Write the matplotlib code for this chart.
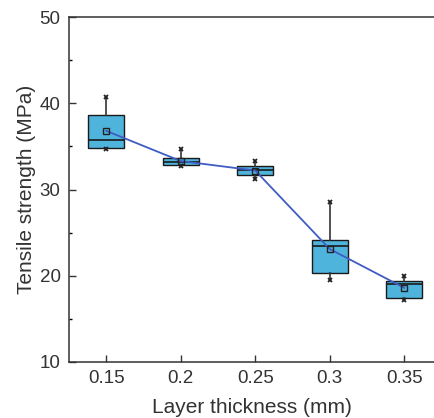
import matplotlib.pyplot as plt
from matplotlib.ticker import MultipleLocator

plt.rcParams['font.family'] = ['Liberation Sans', 'DejaVu Sans']

# data
thickness = [0.15, 0.2, 0.25, 0.3, 0.35]
tick_labels = ['0.15', '0.2', '0.25', '0.3', '0.35']
q1 = [34.8, 32.8, 31.7, 20.3, 17.4]
median = [35.7, 33.2, 32.3, 23.4, 19.0]
q3 = [38.6, 33.6, 32.7, 24.1, 19.4]
mean = [36.8, 33.3, 32.2, 23.1, 18.6]
lo = [34.7, 32.7, 31.2, 19.5, 17.2]
hi = [40.7, 34.7, 33.3, 28.6, 20.0]

box_col = '#4fb4db'
line_col = '#3f5cc4'

fig = plt.figure(figsize=(4.34, 4.18), dpi=100)
ax = fig.add_axes([69/434, 56/418, 365/434, 345/418])

stats = []
for i in range(len(thickness)):
    stats.append(dict(med=median[i], q1=q1[i], q3=q3[i],
                      whislo=lo[i], whishi=hi[i], mean=mean[i]))

ax.bxp(stats, positions=thickness, widths=0.024, patch_artist=True,
       showcaps=False, showfliers=False, showmeans=False,
       boxprops=dict(facecolor=box_col, edgecolor='#1a1a1a', linewidth=1.0),
       medianprops=dict(color='#1a1a1a', linewidth=1.2),
       whiskerprops=dict(color='#333333', linewidth=1.2))

ax.plot(thickness, mean, '-', color=line_col, lw=1.3, zorder=3)
ax.plot(thickness, mean, 's', ms=4, mfc='none', mec='#222222', mew=1.0, zorder=4)
ax.plot(thickness, lo, 'x', ms=3.5, color='#222222', mew=1.3, zorder=4)
ax.plot(thickness, hi, 'x', ms=3.5, color='#222222', mew=1.3, zorder=4)

ax.set_xlim(0.125, 0.37)
ax.set_ylim(10, 50)
ax.set_xticks(thickness)
ax.set_xticklabels(tick_labels)
ax.yaxis.set_major_locator(MultipleLocator(10))
ax.yaxis.set_minor_locator(MultipleLocator(5))
ax.tick_params(axis='both', which='major', direction='in', length=5, width=1,
               labelsize=13.5, colors='#333333', pad=6)
ax.tick_params(axis='y', which='minor', direction='in', length=2.5, width=1)
ax.tick_params(top=False, right=False)
ax.spines['right'].set_visible(False)
for s in ['left', 'bottom', 'top']:
    ax.spines[s].set_linewidth(1.1)
    ax.spines[s].set_color('#333333')

ax.set_xlabel('Layer thickness (mm)', fontsize=15, color='#333333', labelpad=8)
ax.set_ylabel('Tensile strength (MPa)', fontsize=15, color='#333333', labelpad=3)

fig.savefig('out.png', dpi=100)
